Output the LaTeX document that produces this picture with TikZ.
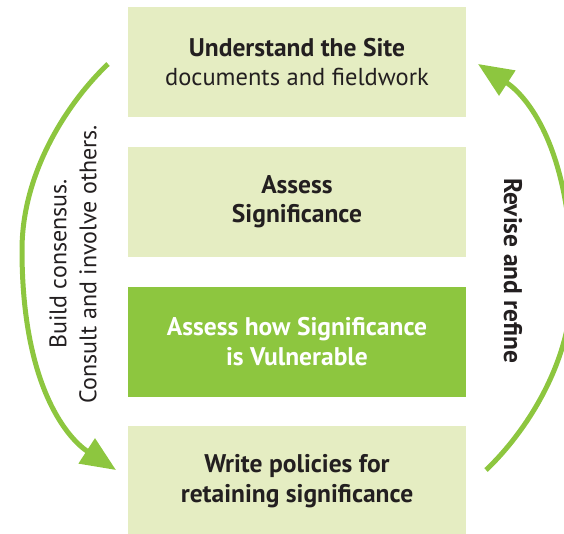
\documentclass[tikz,border=0pt]{standalone}
\usepackage{fontspec}
\setmainfont{PT Sans}
\usetikzlibrary{arrows.meta}
\definecolor{leaf}{HTML}{8DC63F}
\definecolor{pale}{HTML}{E5EDC2}
\definecolor{ink}{HTML}{231F20}
\begin{document}
\begin{tikzpicture}[
    x=1pt, y=-1pt,
    stage/.style={rectangle, fill=pale, minimum width=338pt, minimum height=110pt, align=center, text=ink, font=\fontsize{25.5}{29.5}\selectfont\bfseries},
    keystage/.style={stage, fill=leaf, text=white},
    cycle/.style={line width=5pt, leaf, -{Triangle[length=35pt, width=29pt]}},
    side/.style={align=center, text=ink, font=\fontsize{24}{30}\selectfont}
  ]
    \useasboundingbox (0,0) rectangle (564,533);

    % Stages
    \node[stage] (site) at (297,62) {Understand the Site\\\mdseries\fontsize{24.5}{29.5}\selectfont documents and fieldwork};
    \node[stage] (assess) at (297,201.5) {Assess\\Significance};
    \node[keystage] (vuln) at (297,341.5) {Assess how Significance\\is Vulnerable};
    \node[stage] (policy) at (297,481) {Write policies for\\retaining significance};

    % Cycle arrows
    \coordinate (downstart) at (108,64);
    \coordinate (downend) at (116,470);
    \coordinate (upstart) at (486,470);
    \coordinate (upend) at (478,64);
    \draw[cycle] (downstart) .. controls (70,100) and (22,170) .. (22,250)
      .. controls (22,390) and (70,440) .. (downend);
    \draw[cycle] (upstart) .. controls (524,434) and (572,364) .. (572,284)
      .. controls (572,144) and (524,94) .. (upend);

    % Side labels
    \node[side, rotate=90] (consult) at (73,264) {Build consensus.\\Consult and involve others.};
    \node[side, rotate=-90, font=\fontsize{25.5}{30}\selectfont\bfseries] (revise) at (513,271) {Revise and refine};
  \end{tikzpicture}
\end{document}
